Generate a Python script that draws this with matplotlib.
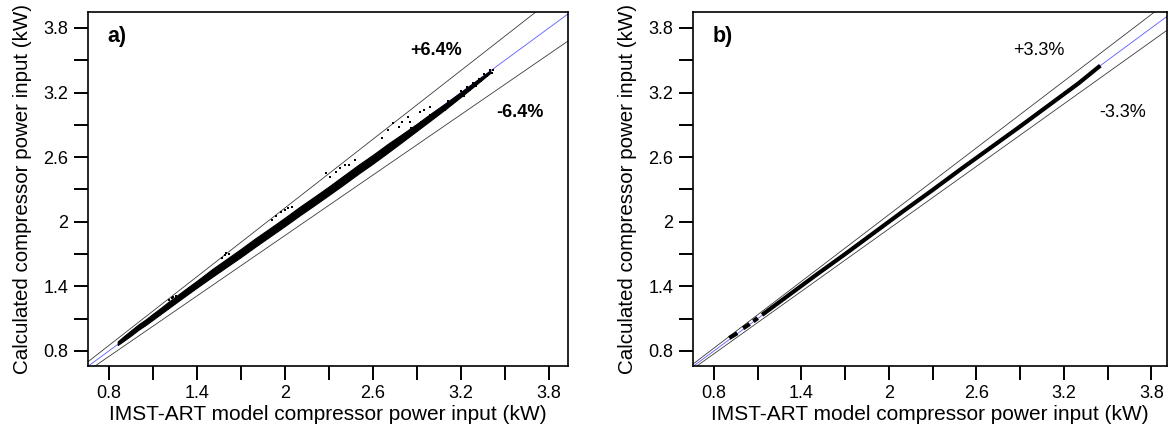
import numpy as np
import matplotlib
matplotlib.use('Agg')
import matplotlib.pyplot as plt

nan = np.nan

# panel a: dense band of points (lower / upper edge)
band_a_x = [0.86, 0.90, 0.95, 1.00, 1.05, 1.10, 1.15, 1.20, 1.25, 1.30, 1.40, 1.50, 1.60, 1.70, 1.80, 1.90,
            2.00, 2.10, 2.20, 2.30, 2.40, 2.50, 2.60, 2.70, 2.80, 2.90, 3.00, 3.10, 3.20, 3.30, 3.40]
band_a_lo = [0.855, 0.893, 0.942, 0.995, 1.040, 1.090, 1.140, 1.190, 1.240, 1.290, 1.388, 1.484, 1.578, 1.672,
             1.770, 1.865, 1.960, 2.058, 2.152, 2.248, 2.345, 2.445, 2.540, 2.640, 2.742, 2.845, 2.948, 3.052,
             3.160, 3.270, 3.382]
band_a_hi = [0.888, 0.935, 0.990, 1.045, 1.092, 1.145, 1.196, 1.250, 1.300, 1.352, 1.452, 1.556, 1.652, 1.748,
             1.848, 1.942, 2.038, 2.138, 2.232, 2.328, 2.428, 2.528, 2.622, 2.722, 2.815, 2.910, 3.010, 3.105,
             3.205, 3.305, 3.405]

# panel a: loose points at the top of the band and outliers above it
pts_a_x = [2.86, 2.89, 2.93, 2.96, 2.99, 3.02, 3.04, 3.07, 3.09, 3.11, 3.13, 3.16, 3.18, 3.20, 3.22, 3.24,
           3.26, 3.28, 3.30, 3.32, 3.34, 3.36, 3.38, 3.40, 3.42, 3.41,
           1.21, 1.23, 1.24, 1.26, 1.57, 1.59, 1.60, 1.62,
           1.91, 1.94, 1.97, 2.00, 2.02, 2.05, 2.28, 2.31, 2.35, 2.375, 2.41, 2.44, 2.48,
           2.66, 2.70, 2.74, 2.78, 2.80, 2.84, 2.85, 2.92, 2.95, 2.99]
pts_a_y = [2.87, 2.86, 2.93, 2.92, 2.99, 2.97, 3.03, 3.06, 3.04, 3.12, 3.09, 3.15, 3.14, 3.21, 3.17, 3.25,
           3.22, 3.29, 3.26, 3.33, 3.31, 3.37, 3.35, 3.41, 3.41, 3.38,
           1.275, 1.29, 1.305, 1.31, 1.66, 1.69, 1.705, 1.70,
           2.016, 2.05, 2.093, 2.11, 2.128, 2.14, 2.45, 2.418, 2.465, 2.496, 2.527, 2.53, 2.57,
           2.775, 2.852, 2.92, 2.883, 2.929, 2.976, 2.929, 3.022, 3.038, 3.068]

# panel b: narrow band (gaps where there are no points)
band_b_x = [0.905, 0.96, nan, 1.00, 1.045, nan, 1.07, 1.10, nan, 1.13, 1.30, 1.50, 1.70, 1.90, 2.10,
            2.30, 2.50, 2.70, 2.90, 3.10, 3.30, 3.45]
band_b_y = [0.92, 0.965, nan, 1.01, 1.05, nan, 1.075, 1.105, nan, 1.135, 1.305, 1.505, 1.70, 1.90, 2.10,
            2.295, 2.495, 2.69, 2.885, 3.085, 3.285, 3.45]

ticks = [0.8, 1.4, 2.0, 2.6, 3.2, 3.8]
tick_labels = ['0.8', '1.4', '2', '2.6', '3.2', '3.8']
minor_ticks = [1.1, 1.7, 2.3, 2.9, 3.5]

plt.rcParams['font.family'] = ['Liberation Sans', 'DejaVu Sans']

fig = plt.figure(figsize=(11.68, 4.4), dpi=100)
ax_a = fig.add_axes([0.0753, 0.1682, 0.411, 0.8045])
ax_b = fig.add_axes([0.5933, 0.1682, 0.4058, 0.8045])


def setup(ax, xlim, ylim, pct, name, bold):
    ax.set_xlim(xlim)
    ax.set_ylim(ylim)
    ax.axline((0, 0), slope=1.0, color='#5a5aff', lw=0.6, zorder=1)
    ax.axline((0, 0), slope=1 + pct / 100, color='#3a3a3a', lw=0.6, zorder=1)
    ax.axline((0, 0), slope=1 - pct / 100, color='#3a3a3a', lw=0.6, zorder=1)
    for a in (ax.xaxis, ax.yaxis):
        a.set_ticks(ticks)
        a.set_ticklabels(tick_labels)
        a.set_ticks(minor_ticks, minor=True)
    ax.tick_params(which='both', direction='out', length=10, width=1.4, labelsize=13, pad=4)
    for s in ax.spines.values():
        s.set_linewidth(1.2)
    ax.set_xlabel('IMST-ART model compressor power input (kW)', fontsize=15.0, labelpad=2)
    ax.set_ylabel('Calculated compressor power input (kW)', fontsize=14.8, labelpad=8)
    ax.text(0.79, 3.72, name, fontsize=15.5, fontweight='bold', va='center', ha='left')
    w = 'bold' if bold else 'normal'
    ax.text(3.03, 3.59, '+%.1f%%' % pct, fontsize=13, fontweight=w, ha='center', va='center')
    ax.text(3.60, 3.01, '-%.1f%%' % pct, fontsize=13, fontweight=w, ha='center', va='center')


setup(ax_a, (0.657, 3.93), (0.66, 3.948), 6.4, 'a)', True)
ax_a.fill_between(band_a_x, band_a_lo, band_a_hi, color='black', lw=0.8, zorder=2)
ax_a.scatter(pts_a_x, pts_a_y, s=4, color='black', marker='s', lw=0, zorder=3)

setup(ax_b, (0.656, 3.907), (0.66, 3.948), 3.3, 'b)', False)
ax_b.plot(band_b_x, band_b_y, color='black', lw=3.0, solid_capstyle='butt', zorder=2)

fig.savefig('out.png', dpi=100)
